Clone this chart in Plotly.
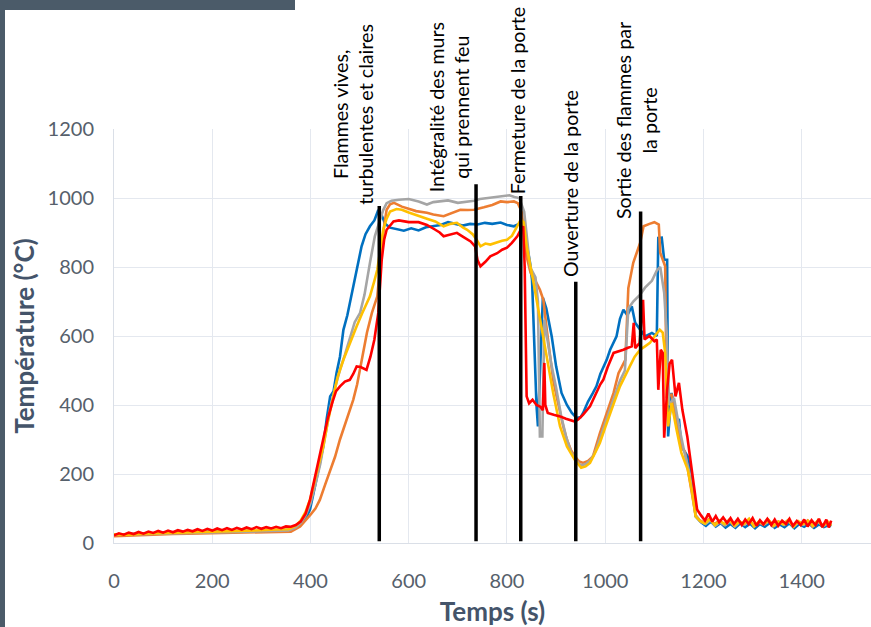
import plotly.graph_objects as go

# ---------------- data ----------------
blue_t = [0, 30, 60, 90, 120, 150, 180, 210, 240, 270, 300, 330, 355, 370, 380, 390, 399, 410, 420, 426, 433, 440, 447, 453, 460, 467, 475, 487, 495, 504, 512, 521, 530, 538, 545, 552, 562,
          575, 590, 605, 620, 635, 650, 665, 680, 695, 710, 725, 740, 755, 770, 787, 800, 814, 825, 835, 847, 851, 855, 860, 863, 867, 873, 880, 891, 900, 911, 922, 932, 942, 950, 955, 965, 975, 982, 990,
          1003, 1010, 1023, 1030, 1037, 1045, 1054, 1061, 1070, 1081, 1095, 1105, 1108, 1115, 1120, 1126, 1128, 1135, 1140, 1145, 1150, 1155, 1168, 1177, 1184,
          1195, 1205, 1215, 1225, 1235, 1245, 1255, 1265, 1275, 1285, 1295, 1305, 1315, 1325, 1335, 1345, 1355, 1365, 1375, 1385, 1395, 1405, 1415, 1425, 1435, 1445, 1455, 1460]
blue_v = [22, 26, 27, 30, 31, 32, 33, 33, 34, 35, 34, 36, 38, 44, 52, 70, 97, 170, 240, 280, 360, 425, 440, 493, 540, 618, 660, 744, 790, 860, 895, 918, 935, 965, 950, 925, 914,
          910, 905, 912, 906, 915, 918, 922, 930, 925, 920, 925, 923, 928, 925, 929, 922, 918, 925, 905, 812, 763, 600, 400, 338, 500, 711, 680, 599, 512, 435, 400, 377, 362, 365, 377, 410, 435, 454, 490,
          531, 560, 599, 650, 676, 660, 686, 638, 620, 599, 609, 600, 884, 885, 821, 821, 309, 435, 400, 348, 360, 280, 251, 183, 77,
          60, 50, 62, 48, 58, 45, 55, 44, 57, 46, 56, 43, 55, 47, 58, 44, 54, 46, 57, 43, 55, 47, 56, 44, 54, 46, 52, 48]

orange_t = [0, 30, 60, 90, 120, 150, 180, 210, 240, 270, 300, 330, 360, 379, 390, 400, 410, 419, 430, 440, 450, 460, 470, 480, 487, 495, 508, 515, 525, 536, 541, 545, 550, 555, 562, 570,
            586, 600, 615, 637, 650, 671, 685, 705, 720, 733, 753, 770, 787, 800, 814, 822, 830, 840, 848, 858, 867, 874, 881, 887, 894, 901, 908, 915, 922, 930, 938, 947, 955, 965, 975, 989,
            1003, 1017, 1027, 1041, 1047, 1057, 1071, 1078, 1090, 1100, 1109, 1112, 1122, 1125, 1135, 1145, 1155, 1162, 1172, 1184,
            1192, 1202, 1212, 1222, 1232, 1242, 1252, 1262, 1272, 1282, 1292, 1302, 1312, 1322, 1332, 1342, 1352, 1362, 1372, 1382, 1392, 1402, 1412, 1422, 1432, 1442, 1452, 1460]
orange_v = [20, 22, 24, 25, 26, 27, 28, 29, 30, 30, 31, 32, 33, 48, 65, 82, 100, 125, 170, 210, 250, 300, 345, 385, 415, 460, 551, 610, 667, 715, 790, 860, 920, 966, 982, 986,
            975, 968, 962, 957, 952, 947, 955, 966, 965, 966, 973, 980, 990, 988, 990, 985, 960, 830, 783, 760, 734, 705, 618, 545, 473, 425, 377, 335, 299, 270, 251, 236, 232, 238, 251, 318,
            376, 435, 492, 531, 739, 812, 870, 918, 925, 930, 923, 841, 802, 425, 430, 360, 280, 265, 183, 80,
            66, 58, 70, 55, 64, 52, 66, 50, 62, 54, 68, 50, 60, 53, 67, 49, 62, 55, 66, 50, 61, 54, 65, 48, 63, 52, 60, 55]

gray_t = [0, 30, 60, 90, 120, 150, 180, 210, 240, 270, 300, 330, 355, 370, 380, 390, 400, 410, 420, 430, 440, 450, 460, 470, 480, 490, 501, 510, 521, 531, 540, 548, 555, 565, 580,
          600, 620, 637, 650, 665, 680, 700, 720, 733, 745, 760, 775, 790, 805, 815, 825, 835, 847, 858, 863, 867, 872, 876, 881, 890, 900, 910, 920, 930, 940, 950, 960, 970, 980, 990,
          1000, 1010, 1020, 1030, 1040, 1047, 1057, 1071, 1081, 1095, 1105, 1112, 1120, 1125, 1130, 1140, 1150, 1160, 1172, 1184,
          1194, 1204, 1214, 1224, 1234, 1244, 1254, 1264, 1274, 1284, 1294, 1304, 1314, 1324, 1334, 1344, 1354, 1364, 1374, 1384, 1394, 1404, 1414, 1424, 1434, 1444, 1454, 1460]
gray_v = [24, 25, 27, 28, 29, 30, 31, 32, 33, 33, 34, 35, 36, 45, 58, 80, 115, 170, 230, 310, 390, 450, 502, 545, 590, 640, 667, 720, 812, 889, 930, 965, 985, 992, 995,
          997, 990, 981, 988, 990, 993, 986, 990, 992, 997, 1000, 1003, 1005, 1008, 1003, 1000, 960, 800, 770, 700, 309, 309, 647, 600, 520, 450, 370, 310, 265, 240, 225, 228, 240, 265, 305,
          345, 385, 430, 470, 500, 680, 700, 720, 740, 760, 790, 800, 725, 610, 400, 420, 340, 270, 200, 80,
          62, 55, 66, 50, 60, 52, 64, 48, 61, 53, 65, 49, 60, 54, 63, 50, 59, 52, 64, 48, 60, 53, 62, 50, 61, 49, 58, 52]

yellow_t = [0, 30, 60, 90, 120, 150, 180, 210, 240, 270, 300, 330, 355, 370, 380, 390, 400, 410, 420, 426, 435, 445, 455, 467, 480, 494, 505, 521, 530, 536, 542, 548, 555, 562, 575,
            586, 600, 620, 637, 654, 671, 685, 698, 710, 719, 730, 738, 746, 756, 766, 780, 790, 800, 810, 817, 828, 834, 840, 853, 867, 881, 894, 908, 922, 938, 951, 960, 969, 979, 989,
            1000, 1010, 1020, 1030, 1040, 1050, 1060, 1071, 1081, 1091, 1101, 1111, 1117, 1122, 1128, 1135, 1145, 1155, 1168, 1177, 1184,
            1193, 1203, 1213, 1223, 1233, 1243, 1253, 1263, 1273, 1283, 1293, 1303, 1313, 1323, 1333, 1343, 1353, 1363, 1373, 1383, 1393, 1403, 1413, 1423, 1433, 1443, 1453, 1460]
yellow_v = [25, 24, 27, 28, 30, 31, 33, 34, 35, 36, 37, 39, 40, 50, 65, 90, 130, 190, 245, 280, 350, 420, 480, 531, 580, 628, 665, 715, 760, 792, 850, 908, 940, 961, 968,
            966, 958, 947, 940, 932, 918, 925, 928, 915, 908, 895, 880, 860, 868, 865, 872, 876, 879, 890, 908, 937, 930, 860, 763, 647, 531, 435, 338, 280, 241, 218, 222, 232, 260, 290,
            335, 377, 415, 454, 485, 512, 540, 560, 570, 580, 600, 618, 610, 551, 338, 406, 330, 261, 213, 146, 77,
            64, 56, 70, 52, 65, 55, 68, 50, 62, 56, 70, 48, 63, 55, 66, 50, 62, 54, 67, 47, 63, 55, 64, 50, 66, 49, 62, 50]

red_t = [0, 10, 20, 30, 40, 50, 60, 70, 80, 90, 100, 110, 120, 130, 140, 150, 160, 170, 180, 190, 200, 210, 220, 230, 240, 250, 260, 270, 280, 290, 300, 310, 320, 330, 340, 350, 360,
         370, 380, 390, 399, 410, 418, 426, 435, 445, 452, 460, 470, 480, 487, 494, 502, 514, 522, 530, 538, 545, 550, 555, 569,
         580, 590, 600, 620, 637, 654, 663, 671, 685, 698, 710, 726, 735, 740, 746, 756, 766, 780, 790, 800, 810, 821, 828, 833, 836, 840, 845, 852, 860, 868, 873, 876, 878, 883, 895, 908, 920, 930, 938, 945, 955, 969, 980, 990, 996,
         1005, 1017, 1027, 1037, 1045, 1054, 1058, 1061, 1070, 1077, 1080, 1090, 1100, 1105, 1108, 1113, 1117, 1120, 1126, 1131, 1136, 1140, 1143, 1150, 1157, 1167, 1177, 1187,
         1195, 1203, 1210, 1218, 1225, 1232, 1240, 1248, 1255, 1262, 1270, 1278, 1285, 1292, 1300, 1308, 1315, 1322, 1330, 1338, 1345, 1352, 1360, 1368, 1375, 1382, 1390, 1398, 1405, 1412, 1420, 1428, 1435, 1442, 1450, 1455, 1460]
red_v = [22, 28, 24, 30, 26, 32, 27, 33, 29, 35, 30, 36, 31, 37, 33, 38, 34, 40, 35, 41, 36, 42, 37, 43, 38, 44, 39, 45, 40, 46, 41, 46, 42, 47, 43, 48, 47,
         52, 62, 85, 125, 195, 250, 300, 360, 410, 440, 454, 468, 473, 490, 512, 510, 502, 540, 589, 667, 821, 880, 908, 932,
         935, 933, 930, 930, 922, 908, 900, 889, 895, 899, 888, 874, 860, 820, 802, 815, 831, 840, 850, 856, 870, 889, 908, 918, 800, 425, 405, 415, 400, 395, 385, 522, 400, 377, 372, 367, 360, 355, 352, 358, 372, 396, 430, 460, 473,
         510, 551, 555, 560, 565, 570, 638, 565, 580, 705, 590, 600, 585, 590, 444, 560, 551, 305, 444, 520, 531, 480, 425, 464, 386, 309, 203, 97,
         80, 65, 85, 62, 78, 60, 74, 58, 72, 55, 70, 52, 68, 55, 72, 50, 66, 54, 70, 52, 68, 50, 65, 55, 70, 50, 64, 52, 68, 48, 66, 52, 70, 46, 68, 45, 65]

event_t = [540, 737, 828, 940, 1072]
event_top = [977, 1040, 1006, 757, 961]
event_labels = ["Flammes vives,<br>turbulentes et claires",
                "Intégralité des murs<br>qui prennent feu",
                "Fermeture de la porte",
                "Ouverture de la porte",
                "Sortie des flammes par<br>la porte"]

x_ticks = [0, 200, 400, 600, 800, 1000, 1200, 1400]
y_ticks = [0, 200, 400, 600, 800, 1000, 1200]

# ---------------- figure ----------------
fig = go.Figure()
series = [(blue_t, blue_v, "#0070C0"), (orange_t, orange_v, "#ED7D31"), (gray_t, gray_v, "#A5A5A5"),
          (yellow_t, yellow_v, "#FFC000"), (red_t, red_v, "#FF0000")]
for t, v, c in series:
    fig.add_trace(go.Scatter(x=t, y=v, mode="lines", line=dict(color=c, width=2.6), showlegend=False,
                             hoverinfo="skip"))

W, H = 871, 627
ML, MR, MT, MB = 114, 0, 129, 84
pw, ph = W - ML - MR, H - MT - MB

shapes = []
for t, top in zip(event_t, event_top):
    shapes.append(dict(type="line", xref="x", yref="y", x0=t, x1=t, y0=5, y1=top,
                       line=dict(color="black", width=3.5)))
frame_col = "#4B5B69"
def px2paper_x(p):
    return (p - ML) / pw
def px2paper_y(p):
    return (H - MB - p) / ph
shapes.append(dict(type="rect", xref="paper", yref="paper", x0=px2paper_x(0), x1=px2paper_x(295),
                   y0=px2paper_y(10), y1=px2paper_y(0), fillcolor=frame_col, line=dict(width=0), layer="above"))
shapes.append(dict(type="rect", xref="paper", yref="paper", x0=px2paper_x(0), x1=px2paper_x(5),
                   y0=px2paper_y(627), y1=px2paper_y(0), fillcolor=frame_col, line=dict(width=0), layer="above"))

xshifts = [-26, -27, -3, -5, -4]
yshifts = [-1, -10, 0, 3, -10]
annotations = []
for t, top, lab, xs, ys in zip(event_t, event_top, event_labels, xshifts, yshifts):
    annotations.append(dict(x=t, y=top, xref="x", yref="y", text=lab, showarrow=False, textangle=-90,
                            xanchor="center", yanchor="bottom", xshift=xs, yshift=ys, align="center",
                            font=dict(family="Lato", size=19.7, color="black")))

fig.update_layout(
    width=W, height=H, margin=dict(l=ML, r=MR, t=MT, b=MB),
    paper_bgcolor="white", plot_bgcolor="white",
    font=dict(family="Lato", color="#56606B"),
    shapes=shapes, annotations=annotations,
    xaxis=dict(range=[0, 1541], tickvals=x_ticks, ticktext=[str(v) for v in x_ticks],
               showgrid=True, gridcolor="#E4E8EF", gridwidth=1, zeroline=False, showline=True,
               linecolor="#DADFE7", linewidth=1, ticks="", ticklabelstandoff=20,
               tickfont=dict(family="Lato", size=20, color="#56606B"),
               title=dict(text="<b>Temps (s)</b>", standoff=14,
                          font=dict(family="Lato", size=26, color="#44546A"))),
    yaxis=dict(range=[0, 1200], tickvals=y_ticks, ticktext=[str(v) for v in y_ticks],
               showgrid=True, gridcolor="#E4E8EF", gridwidth=1, zeroline=False, showline=True,
               linecolor="#DADFE7", linewidth=1, ticks="", ticklabelstandoff=15,
               tickfont=dict(family="Lato", size=20, color="#56606B"),
               title=dict(text="<b>Température (°C)</b>", standoff=5,
                          font=dict(family="Lato", size=26, color="#44546A"))),
)

fig.write_html("out.html", config={"displayModeBar": False},
               post_script="document.body.style.margin='0';document.body.style.overflow='hidden';")
